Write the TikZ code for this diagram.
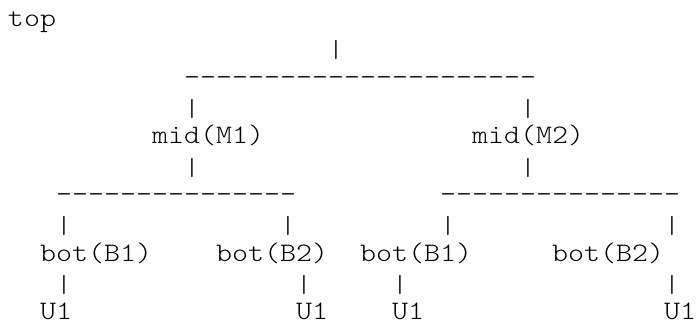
\documentclass[tikz,border=0pt]{standalone}
\usepackage{fontspec}
\usepackage{graphicx}
\newfontfamily\asciifont{lmmonolt10-regular.otf}[FakeStretch=1.142857]
\newcommand\asciitext{\asciifont\fontsize{26.67pt}{29.33pt}\selectfont}
\newcommand\asciivbar{\resizebox*{!}{19.3pt}{|}}
\tikzset{
  txt/.style={anchor=base west, inner sep=0pt, outer sep=0pt, font=\asciitext, text=black},
  pipe/.style={anchor=south, inner sep=0pt, outer sep=0pt, font=\asciitext, text=black}
}
\begin{document}
% column c -> x = 8 + 16 c ; line i -> baseline y = 26.4 + 29.33 i
\begin{tikzpicture}[x=1pt,y=1pt]
\useasboundingbox (0,0) rectangle (696,-324);
% line 0
\node[txt] (top) at ({8+16*0},{-(26.4+29.33*0)}) {top};
% line 1
\node[pipe] (p1) at ({16+16*20},{-(26.4+29.33*1+4.3)}) {\asciivbar};
% line 2
\node[txt] (d0) at ({8+16*11},{-(26.4+29.33*2)}) {----------------------};
% line 3
\node[pipe] (p3a) at ({16+16*11},{-(26.4+29.33*3+4.3)}) {\asciivbar};
\node[pipe] (p3b) at ({16+16*32},{-(26.4+29.33*3+4.3)}) {\asciivbar};
% line 4
\node[txt] (m1) at ({8+16*9},{-(26.4+29.33*4)}) {mid(M1)};
\node[txt] (m2) at ({8+16*29},{-(26.4+29.33*4)}) {mid(M2)};
% line 5
\node[pipe] (p5a) at ({16+16*11},{-(26.4+29.33*5+4.3)}) {\asciivbar};
\node[pipe] (p5b) at ({16+16*32},{-(26.4+29.33*5+4.3)}) {\asciivbar};
% line 6
\node[txt] (d1) at ({8+16*3},{-(26.4+29.33*6)}) {---------------};
\node[txt] (d2) at ({8+16*27},{-(26.4+29.33*6)}) {---------------};
% line 7
\node[pipe] (p7a) at ({16+16*3},{-(26.4+29.33*7+4.3)}) {\asciivbar};
\node[pipe] (p7b) at ({16+16*17},{-(26.4+29.33*7+4.3)}) {\asciivbar};
\node[pipe] (p7c) at ({16+16*27},{-(26.4+29.33*7+4.3)}) {\asciivbar};
\node[pipe] (p7d) at ({16+16*41},{-(26.4+29.33*7+4.3)}) {\asciivbar};
% line 8
\node[txt] (b1) at ({8+16*2},{-(26.4+29.33*8)}) {bot(B1)};
\node[txt] (b2) at ({8+16*13},{-(26.4+29.33*8)}) {bot(B2)};
\node[txt] (b3) at ({8+16*22},{-(26.4+29.33*8)}) {bot(B1)};
\node[txt] (b4) at ({8+16*34},{-(26.4+29.33*8)}) {bot(B2)};
% line 9
\node[pipe] (p9a) at ({16+16*3},{-(26.4+29.33*9+4.3)}) {\asciivbar};
\node[pipe] (p9b) at ({16+16*18},{-(26.4+29.33*9+4.3)}) {\asciivbar};
\node[pipe] (p9c) at ({16+16*24},{-(26.4+29.33*9+4.3)}) {\asciivbar};
\node[pipe] (p9d) at ({16+16*41},{-(26.4+29.33*9+4.3)}) {\asciivbar};
% line 10
\node[txt] (u1) at ({8+16*2},{-(26.4+29.33*10)}) {U1};
\node[txt] (u2) at ({8+16*18},{-(26.4+29.33*10)}) {U1};
\node[txt] (u3) at ({8+16*24},{-(26.4+29.33*10)}) {U1};
\node[txt] (u4) at ({8+16*41},{-(26.4+29.33*10)}) {U1};
\end{tikzpicture}
\end{document}
